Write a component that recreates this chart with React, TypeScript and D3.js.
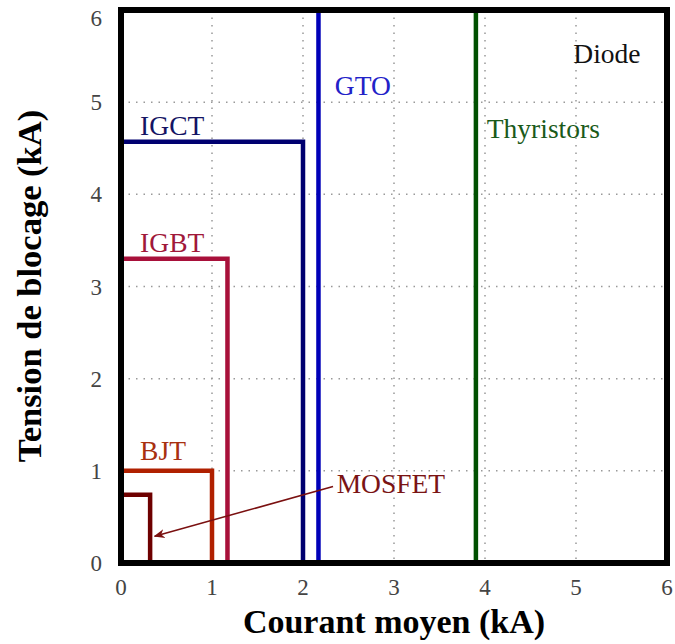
import React from "react";
import * as d3 from "d3";

// device limits (kA)
const devices = ["MOSFET", "BJT", "IGBT", "IGCT", "GTO", "Thyristors"];
const maxCurrent = [0.32, 1.0, 1.17, 2.0, 2.17, 3.9];
const maxVoltage = [0.74, 1.0, 3.3, 4.57, 6, 6];
const colors = ["#6e0000", "#b02000", "#a8103a", "#000070", "#0000b8", "#005000"];

// label anchors in data units
const labelNames = ["Diode", "GTO", "Thyristors", "IGCT", "IGBT", "BJT", "MOSFET"];
const labelX = [4.97, 2.35, 4.02, 0.21, 0.21, 0.21, 2.37];
const labelY = [5.42, 5.08, 4.61, 4.64, 3.37, 1.12, 0.76];
const labelColors = ["#111111", "#2222c8", "#1a5a1a", "#141464", "#a0183a", "#a83010", "#7a1414"];

const ticks = [0, 1, 2, 3, 4, 5, 6];

const W = 675;
const H = 644;

const App = () => {
  const x = d3.scaleLinear().domain([0, 6]).range([121, 667]);
  const y = d3.scaleLinear().domain([0, 6]).range([563, 10]);

  const line = d3
    .line<[number, number]>()
    .x((d) => x(d[0]))
    .y((d) => y(d[1]));

  const serif = "Liberation Serif, Times New Roman, serif";

  // MOSFET arrow, from label to the MOSFET box
  const arrowFrom: [number, number] = [2.33, 0.83];
  const arrowTo: [number, number] = [0.37, 0.29];

  return (
    <svg width={W} height={H} style={{ position: "absolute", left: 0, top: 0 }}>
      <defs>
        <marker
          id="arr"
          viewBox="0 0 10 10"
          refX={9}
          refY={5}
          markerWidth={7}
          markerHeight={7}
          orient="auto"
        >
          <path d="M0,1 L10,5 L0,9 L3,5 Z" fill="#7a1010" />
        </marker>
      </defs>
      <rect width={W} height={H} fill="white" />

      {/* dotted grid */}
      {ticks.slice(1, 6).map((t) => (
        <g key={"g" + t}>
          <line
            x1={x(t)}
            x2={x(t)}
            y1={y(6)}
            y2={y(0)}
            stroke="#999"
            strokeWidth={1.5}
            strokeDasharray="1.5 6"
          />
          <line
            x1={x(0)}
            x2={x(6)}
            y1={y(t)}
            y2={y(t)}
            stroke="#999"
            strokeWidth={1.5}
            strokeDasharray="1.5 6"
          />
        </g>
      ))}

      {/* device envelopes */}
      {devices.map((d, i) => {
        const pts: [number, number][] =
          maxVoltage[i] >= 6
            ? [
                [maxCurrent[i], 6],
                [maxCurrent[i], 0],
              ]
            : [
                [0, maxVoltage[i]],
                [maxCurrent[i], maxVoltage[i]],
                [maxCurrent[i], 0],
              ];
        return (
          <path
            key={d}
            d={line(pts) || ""}
            fill="none"
            stroke={colors[i]}
            strokeWidth={4.5}
            strokeLinejoin="miter"
          />
        );
      })}

      {/* frame */}
      <rect
        x={x(0)}
        y={y(6)}
        width={x(6) - x(0)}
        height={y(0) - y(6)}
        fill="none"
        stroke="black"
        strokeWidth={6}
      />

      <line
        x1={x(arrowFrom[0])}
        y1={y(arrowFrom[1])}
        x2={x(arrowTo[0])}
        y2={y(arrowTo[1])}
        stroke="#7a1010"
        strokeWidth={1.6}
        markerEnd="url(#arr)"
      />

      {labelNames.map((n, i) => (
        <text
          key={n}
          x={x(labelX[i])}
          y={y(labelY[i])}
          fill={labelColors[i]}
          style={{ fontFamily: serif, fontSize: 27.5 }}
        >
          {n}
        </text>
      ))}

      {/* ticks */}
      {ticks.map((t) => (
        <text
          key={"x" + t}
          x={x(t)}
          y={595}
          textAnchor="middle"
          fill="#444"
          style={{ fontFamily: serif, fontSize: 23 }}
        >
          {t}
        </text>
      ))}
      {ticks.map((t) => (
        <text
          key={"y" + t}
          x={102}
          y={Math.max(y(t), 18)}
          dy="0.35em"
          textAnchor="end"
          fill="#444"
          style={{ fontFamily: serif, fontSize: 23 }}
        >
          {t}
        </text>
      ))}

      <text
        x={394}
        y={633}
        textAnchor="middle"
        style={{ fontFamily: serif, fontSize: 34, fontWeight: "bold" }}
      >
        Courant moyen (kA)
      </text>
      <text
        transform="translate(41,286) rotate(-90)"
        textAnchor="middle"
        style={{ fontFamily: serif, fontSize: 34.5, fontWeight: "bold" }}
      >
        Tension de blocage (kA)
      </text>
    </svg>
  );
};

export default App;
